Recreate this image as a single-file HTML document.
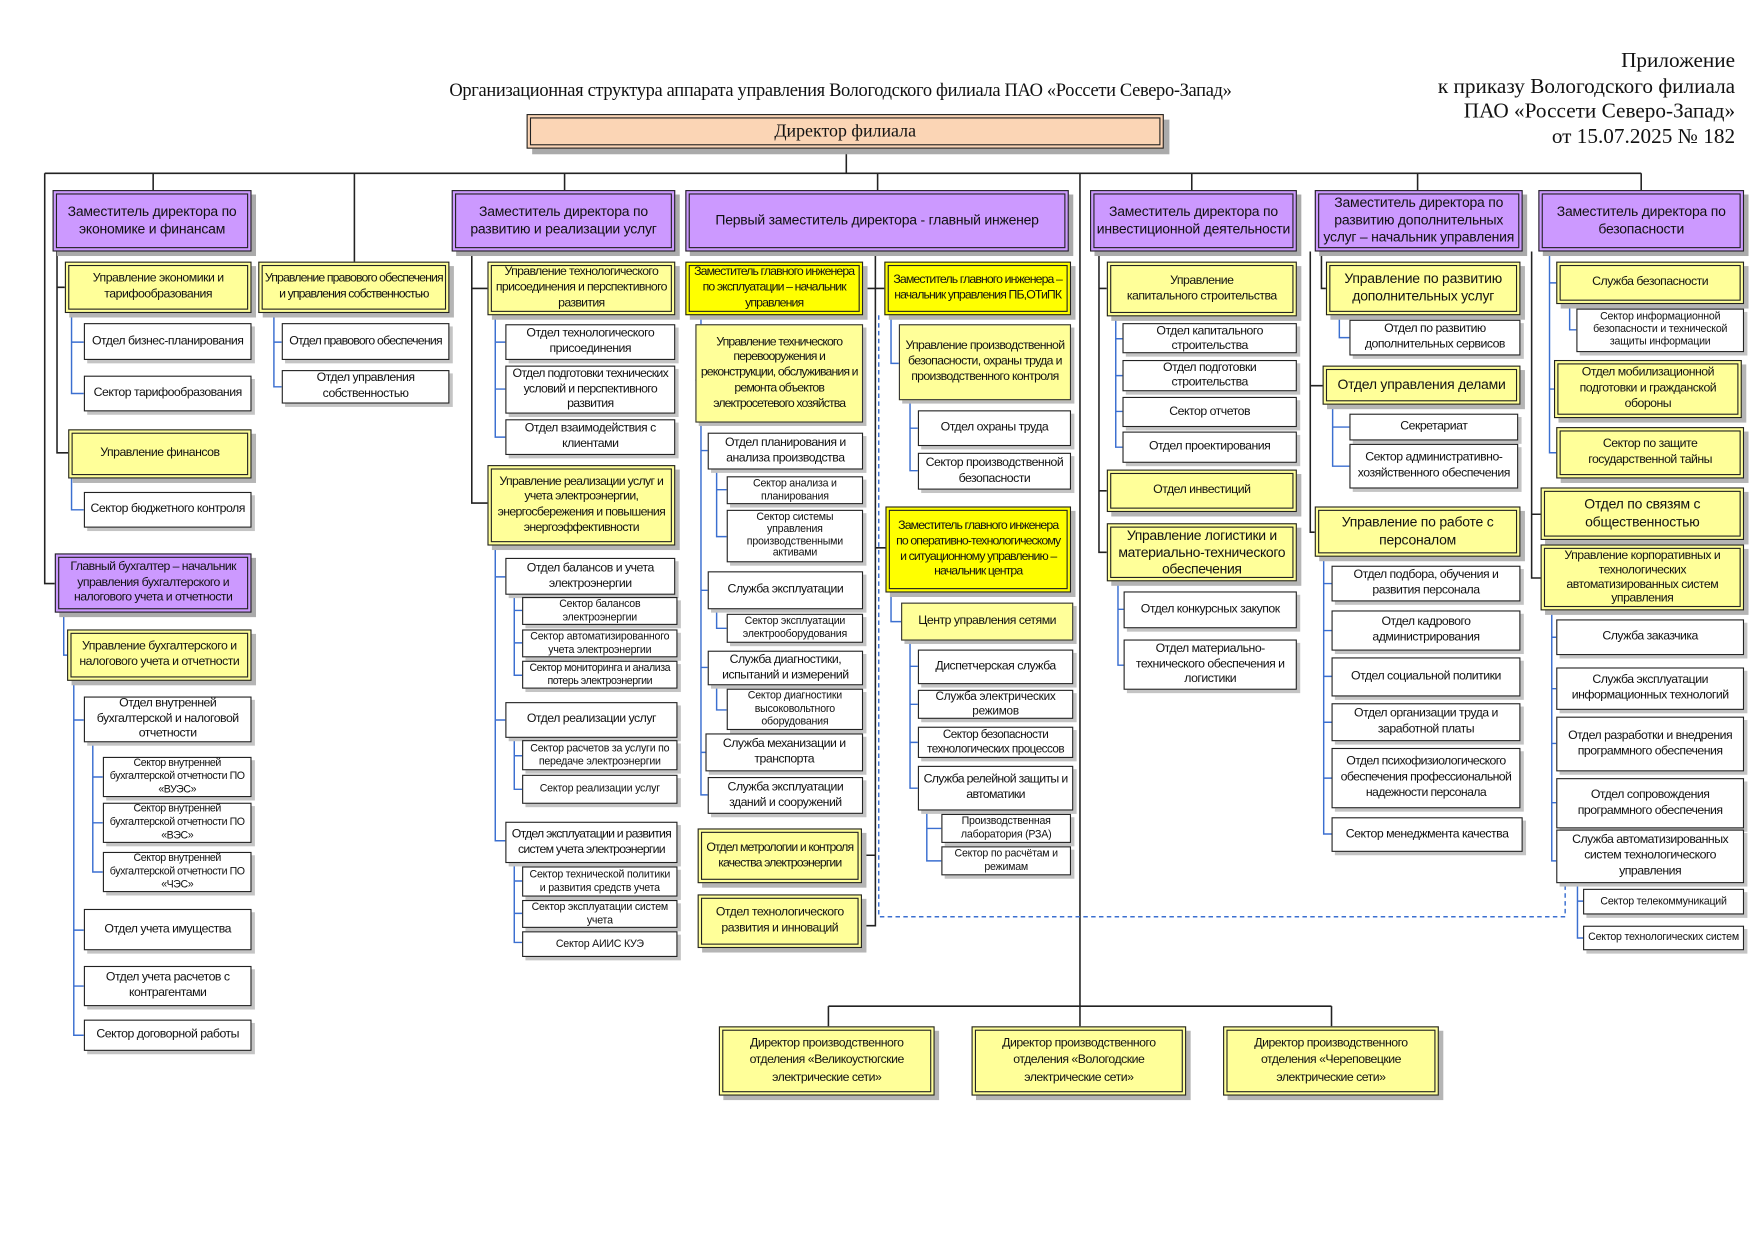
<!DOCTYPE html>
<html><head><meta charset="utf-8">
<style>
html,body{margin:0;padding:0;background:#fff;}
body{width:1753px;height:1246px;overflow:hidden;position:relative;}
#c{position:absolute;left:0;top:0;width:1568px;height:1115px;transform:scale(1.11798);transform-origin:0 0;font-family:"Liberation Sans",sans-serif;color:#111;}
.b{position:absolute;box-sizing:border-box;display:flex;align-items:center;justify-content:center;text-align:center;font-size:11px;line-height:1.25;letter-spacing:-0.45px;overflow:visible;}
.n{white-space:nowrap;}
.p{background:#cc99ff;border:4px double #222;box-shadow:4px 4px 0 #aaa;font-size:12.5px;letter-spacing:-0.2px;}
.y{background:#ffff99;border:4px double #222;box-shadow:4px 4px 0 #b5b5b5;}
.Y{background:#ffff00;border:4px double #222;box-shadow:4px 4px 0 #b5b5b5;}
.ys{background:#ffff99;border:1.5px solid #333;box-shadow:3px 3px 0 #bbb;}
.w{background:#fff;border:1.5px solid #222;box-shadow:3px 3px 0 #c4c4c4;}
.s{font-size:9.5px;letter-spacing:-0.2px;}
.t{position:absolute;font-family:"Liberation Serif",serif;}
svg{position:absolute;left:0;top:0;}
</style></head><body>
<div id="c">
<div class="t" style="left:402px;top:71px;font-size:16.5px;letter-spacing:-0.3px;">Организационная структура аппарата управления Вологодского филиала ПАО «Россети Северо-Запад»</div>
<div class="t" style="right:16px;top:44px;font-size:19px;text-align:right;line-height:22.5px;">Приложение<br>к приказу Вологодского филиала<br>ПАО «Россети Северо-Запад»<br>от 15.07.2025 № 182</div>

<svg width="1568" height="1115" viewBox="0 0 1568 1115">
<g fill="none" stroke="#222" stroke-width="1.4">
<path d="M757 133V155M40 155H1468M137 155V170M317 155V234M505 155V170M785 155V170M1066 155V170M1268 155V170M1468 155V170"/>
<path d="M966 155V900M741 900H1191M741 900V918M966 900V918M1191 900V918"/>
<path d="M40 155V522H49M51 225V405H61M51 257H58"/>
<path d="M422 225V450H436M422 258H436"/>
<path d="M783 225V828H771M772 258H791M783 490H792M783 765H771"/>
<path d="M983 225V494H990M983 258H990M983 439H990"/>
<path d="M1182 225V258H1186M1172 225V476H1176M1172 345H1183"/>
<path d="M1370 225V517H1378M1370 460H1378"/>
</g>
<g fill="none" stroke="#3b6fd0" stroke-width="1.3">
<path d="M64 280V352H75M64 306H75M64 428V456H75"/>
<path d="M245 280V346H252M245 306H252"/>
<path d="M57 548V586H60M66 609V926H75M66 644H75M66 832H75M66 882H75M83 664V780H92M83 695H92M83 736H92"/>
<path d="M443 282V391H452M443 306H452M443 348H452M443 488V752H452M443 516H452M443 644H452M460 532V604H467M460 546H467M460 575H467M460 660V706H467M460 676H467M460 772V843H467M460 788H467M460 817H467"/>
<path d="M627 282V711H633M627 340H622M627 403H633M627 528H633M627 597H633M627 673H631M641 420V480H650M641 438H650M641 545V562H650M641 613V635H650"/>
<path d="M797 282V325H804M814 358V421H821M814 383H821"/>
<path d="M797 530V556H806M814 573V705H821M814 596H821M814 630H821M814 664H821M829 725V770H842M829 741H842"/>
<path d="M998 283V400H1004M998 303H1004M998 336H1004M998 368H1004M1000 520V595H1005M1000 545H1005"/>
<path d="M1198 282V302H1207M1192 362V417H1207M1192 382H1207M1184 498V746H1191M1184 522H1191M1184 564H1191M1184 605H1191M1184 646H1191M1184 696H1191"/>
<path d="M1386 225V405H1392M1386 253H1392M1386 348H1390M1404 272V295H1410M1388 546V770H1392M1388 570H1392M1388 616H1392M1388 665H1392M1388 718H1392M1411 790V839H1416M1411 806H1416"/>
<path d="M786 282V820H1400V790" stroke-dasharray="4 3"/>
</g>
</svg>

<div class="b" style="left:471px;top:102px;width:570px;height:31px;background:#fbd5b5;border:4px double #222;box-shadow:5px 5px 0 #aaa;font-family:'Liberation Serif',serif;font-size:16px;letter-spacing:0;">Директор филиала</div>

<div class="b p" style="left:47px;top:170px;width:178px;height:55px;">Заместитель директора по экономике и финансам</div>
<div class="b p" style="left:404px;top:170px;width:200px;height:55px;">Заместитель директора по развитию и реализации услуг</div>
<div class="b p" style="left:613px;top:170px;width:343px;height:55px;">Первый заместитель директора - главный инженер</div>
<div class="b p" style="left:975px;top:170px;width:185px;height:55px;">Заместитель директора по инвестиционной деятельности</div>
<div class="b p" style="left:1176px;top:170px;width:186px;height:55px;">Заместитель директора по развитию дополнительных услуг – начальник управления</div>
<div class="b p" style="left:1376px;top:170px;width:184px;height:55px;">Заместитель директора по безопасности</div>

<div class="b y" style="left:58px;top:234px;width:167px;height:46px;">Управление экономики и тарифообразования</div>
<div class="b w" style="left:75px;top:289px;width:150px;height:33px;">Отдел бизнес-планирования</div>
<div class="b w" style="left:75px;top:336px;width:150px;height:32px;">Сектор тарифообразования</div>
<div class="b y" style="left:61px;top:384px;width:164px;height:44px;">Управление финансов</div>
<div class="b w" style="left:75px;top:440px;width:150px;height:32px;">Сектор бюджетного контроля</div>
<div class="b p n" style="left:49px;top:495px;width:176px;height:53px;font-size:11px;letter-spacing:-0.5px;">Главный бухгалтер – начальник<br>управления бухгалтерского и<br>налогового учета и отчетности</div>
<div class="b y" style="left:60px;top:563px;width:165px;height:46px;">Управление бухгалтерского и налогового учета и отчетности</div>
<div class="b w" style="left:75px;top:623px;width:150px;height:41px;">Отдел внутренней бухгалтерской и налоговой отчетности</div>
<div class="b w s n" style="left:92px;top:677px;width:133px;height:36px;letter-spacing:-0.4px;">Сектор внутренней<br>бухгалтерской отчетности ПО<br>«ВУЭС»</div>
<div class="b w s n" style="left:92px;top:718px;width:133px;height:36px;letter-spacing:-0.4px;">Сектор внутренней<br>бухгалтерской отчетности ПО<br>«ВЭС»</div>
<div class="b w s n" style="left:92px;top:762px;width:133px;height:36px;letter-spacing:-0.4px;">Сектор внутренней<br>бухгалтерской отчетности ПО<br>«ЧЭС»</div>
<div class="b w" style="left:75px;top:813px;width:150px;height:37px;">Отдел учета имущества</div>
<div class="b w" style="left:75px;top:864px;width:150px;height:36px;">Отдел учета расчетов с контрагентами</div>
<div class="b w" style="left:75px;top:912px;width:150px;height:28px;">Сектор договорной работы</div>

<div class="b y n" style="left:231px;top:234px;width:171px;height:46px;letter-spacing:-0.8px;">Управление правового обеспечения<br>и управления собственностью</div>
<div class="b w n" style="left:252px;top:289px;width:150px;height:33px;letter-spacing:-0.7px;">Отдел правового обеспечения</div>
<div class="b w" style="left:252px;top:331px;width:150px;height:30px;">Отдел управления собственностью</div>

<div class="b y n" style="left:436px;top:234px;width:168px;height:48px;letter-spacing:-0.6px;">Управление технологического<br>присоединения и перспективного<br>развития</div>
<div class="b w" style="left:452px;top:290px;width:152px;height:32px;">Отдел технологического присоединения</div>
<div class="b w n" style="left:452px;top:327px;width:152px;height:43px;letter-spacing:-0.6px;">Отдел подготовки технических<br>условий и перспективного<br>развития</div>
<div class="b w" style="left:452px;top:375px;width:152px;height:32px;">Отдел взаимодействия с клиентами</div>
<div class="b y n" style="left:436px;top:416px;width:168px;height:72px;letter-spacing:-0.6px;">Управление реализации услуг и<br>учета электроэнергии,<br>энергосбережения и повышения<br>энергоэффективности</div>
<div class="b w" style="left:452px;top:499px;width:152px;height:33px;">Отдел балансов и учета электроэнергии</div>
<div class="b w s" style="left:467px;top:534px;width:139px;height:25px;">Сектор балансов электроэнергии</div>
<div class="b w s n" style="left:467px;top:563px;width:139px;height:25px;">Сектор автоматизированного<br>учета электроэнергии</div>
<div class="b w s n" style="left:467px;top:591px;width:139px;height:25px;letter-spacing:-0.4px;">Сектор мониторинга и анализа<br>потерь электроэнергии</div>
<div class="b w" style="left:452px;top:628px;width:154px;height:32px;">Отдел реализации услуг</div>
<div class="b w s n" style="left:467px;top:662px;width:139px;height:27px;">Сектор расчетов за услуги по<br>передаче электроэнергии</div>
<div class="b w s" style="left:467px;top:693px;width:139px;height:26px;">Сектор реализации услуг</div>
<div class="b w n" style="left:452px;top:735px;width:154px;height:37px;letter-spacing:-0.7px;">Отдел эксплуатации и развития<br>систем учета электроэнергии</div>
<div class="b w s n" style="left:467px;top:775px;width:139px;height:27px;">Сектор технической политики<br>и развития средств учета</div>
<div class="b w s n" style="left:467px;top:805px;width:139px;height:25px;">Сектор эксплуатации систем<br>учета</div>
<div class="b w s" style="left:467px;top:833px;width:139px;height:23px;">Сектор АИИС КУЭ</div>

<div class="b Y n" style="left:613px;top:234px;width:159px;height:48px;letter-spacing:-0.8px;">Заместитель главного инженера<br>по эксплуатации – начальник<br>управления</div>
<div class="b ys n" style="left:622px;top:290px;width:150px;height:88px;letter-spacing:-0.8px;">Управление технического<br>перевооружения и<br>реконструкции, обслуживания и<br>ремонта объектов<br>электросетевого хозяйства</div>
<div class="b w n" style="left:633px;top:387px;width:139px;height:33px;">Отдел планирования и<br>анализа производства</div>
<div class="b w s n" style="left:650px;top:426px;width:122px;height:25px;">Сектор анализа и<br>планирования</div>
<div class="b w s n" style="left:650px;top:456px;width:122px;height:47px;line-height:1.15;">Сектор системы<br>управления<br>производственными<br>активами</div>
<div class="b w" style="left:633px;top:511px;width:139px;height:34px;">Служба эксплуатации</div>
<div class="b w s n" style="left:650px;top:549px;width:122px;height:26px;">Сектор эксплуатации<br>электрооборудования</div>
<div class="b w n" style="left:633px;top:582px;width:139px;height:31px;">Служба диагностики,<br>испытаний и измерений</div>
<div class="b w s n" style="left:650px;top:616px;width:122px;height:37px;">Сектор диагностики<br>высоковольтного<br>оборудования</div>
<div class="b w n" style="left:631px;top:656px;width:141px;height:34px;">Служба механизации и<br>транспорта</div>
<div class="b w n" style="left:633px;top:695px;width:139px;height:33px;">Служба эксплуатации<br>зданий и сооружений</div>
<div class="b y n" style="left:624px;top:741px;width:147px;height:49px;letter-spacing:-0.8px;">Отдел метрологии и контроля<br>качества электроэнергии</div>
<div class="b y n" style="left:624px;top:800px;width:147px;height:48px;">Отдел технологического<br>развития и инноваций</div>

<div class="b Y n" style="left:791px;top:234px;width:167px;height:48px;letter-spacing:-0.8px;">Заместитель главного инженера –<br>начальник управления ПБ,ОТиПК</div>
<div class="b ys n" style="left:804px;top:290px;width:154px;height:68px;letter-spacing:-0.6px;">Управление производственной<br>безопасности, охраны труда и<br>производственного контроля</div>
<div class="b w" style="left:821px;top:367px;width:137px;height:32px;">Отдел охраны труда</div>
<div class="b w n" style="left:821px;top:405px;width:137px;height:33px;">Сектор производственной<br>безопасности</div>
<div class="b Y n" style="left:792px;top:453px;width:166px;height:77px;letter-spacing:-0.8px;">Заместитель главного инженера<br>по оперативно-технологическому<br>и ситуационному управлению –<br>начальник центра</div>
<div class="b ys" style="left:806px;top:539px;width:154px;height:34px;">Центр управления сетями</div>
<div class="b w" style="left:821px;top:581px;width:139px;height:31px;">Диспетчерская служба</div>
<div class="b w s n" style="left:821px;top:617px;width:139px;height:26px;font-size:10.5px;">Служба электрических<br>режимов</div>
<div class="b w s n" style="left:821px;top:650px;width:139px;height:28px;font-size:10.5px;letter-spacing:-0.5px;">Сектор безопасности<br>технологических процессов</div>
<div class="b w n" style="left:821px;top:685px;width:139px;height:40px;letter-spacing:-0.6px;">Служба релейной защиты и<br>автоматики</div>
<div class="b w s n" style="left:842px;top:728px;width:116px;height:26px;">Производственная<br>лаборатория (РЗА)</div>
<div class="b w s n" style="left:842px;top:757px;width:116px;height:26px;">Сектор по расчётам и<br>режимам</div>

<div class="b y n" style="left:990px;top:234px;width:170px;height:49px;">Управление<br>капитального строительства</div>
<div class="b w n" style="left:1004px;top:289px;width:156px;height:27px;line-height:1.15;">Отдел капитального<br>строительства</div>
<div class="b w n" style="left:1004px;top:322px;width:156px;height:28px;line-height:1.15;">Отдел подготовки<br>строительства</div>
<div class="b w" style="left:1004px;top:355px;width:156px;height:27px;">Сектор отчетов</div>
<div class="b w" style="left:1004px;top:386px;width:156px;height:28px;">Отдел проектирования</div>
<div class="b y" style="left:990px;top:420px;width:170px;height:38px;">Отдел инвестиций</div>
<div class="b y n" style="left:990px;top:468px;width:170px;height:52px;font-size:12.5px;letter-spacing:-0.3px;line-height:1.2;">Управление логистики и<br>материально-технического<br>обеспечения</div>
<div class="b w" style="left:1005px;top:529px;width:155px;height:33px;">Отдел конкурсных закупок</div>
<div class="b w n" style="left:1005px;top:572px;width:155px;height:45px;">Отдел материально-<br>технического обеспечения и<br>логистики</div>

<div class="b y n" style="left:1186px;top:234px;width:174px;height:48px;font-size:12.5px;letter-spacing:-0.2px;">Управление по развитию<br>дополнительных услуг</div>
<div class="b w n" style="left:1207px;top:286px;width:153px;height:32px;">Отдел по развитию<br>дополнительных сервисов</div>
<div class="b y" style="left:1183px;top:327px;width:177px;height:35px;font-size:12.5px;letter-spacing:-0.2px;">Отдел управления делами</div>
<div class="b w" style="left:1207px;top:370px;width:151px;height:24px;">Секретариат</div>
<div class="b w n" style="left:1207px;top:397px;width:151px;height:40px;">Сектор административно-<br>хозяйственного обеспечения</div>
<div class="b y n" style="left:1176px;top:453px;width:184px;height:45px;font-size:12.5px;letter-spacing:-0.2px;">Управление по работе с<br>персоналом</div>
<div class="b w n" style="left:1191px;top:506px;width:169px;height:32px;">Отдел подбора, обучения и<br>развития персонала</div>
<div class="b w n" style="left:1191px;top:546px;width:169px;height:36px;">Отдел кадрового<br>администрирования</div>
<div class="b w" style="left:1191px;top:588px;width:169px;height:35px;">Отдел социальной политики</div>
<div class="b w n" style="left:1191px;top:629px;width:169px;height:34px;">Отдел организации труда и<br>заработной платы</div>
<div class="b w n" style="left:1191px;top:669px;width:169px;height:54px;letter-spacing:-0.55px;">Отдел психофизиологического<br>обеспечения профессиональной<br>надежности персонала</div>
<div class="b w" style="left:1191px;top:731px;width:171px;height:31px;">Сектор менеджмента качества</div>

<div class="b y" style="left:1392px;top:234px;width:168px;height:38px;">Служба безопасности</div>
<div class="b w s n" style="left:1410px;top:276px;width:150px;height:39px;line-height:1.15;">Сектор информационной<br>безопасности и технической<br>защиты информации</div>
<div class="b y n" style="left:1390px;top:322px;width:168px;height:52px;">Отдел мобилизационной<br>подготовки и гражданской<br>обороны</div>
<div class="b y n" style="left:1392px;top:382px;width:168px;height:46px;">Сектор по защите<br>государственной тайны</div>
<div class="b y n" style="left:1378px;top:436px;width:182px;height:47px;font-size:12.5px;letter-spacing:-0.2px;">Отдел по связям с<br>общественностью</div>
<div class="b y n" style="left:1378px;top:487px;width:182px;height:59px;line-height:1.15;">Управление корпоративных и<br>технологических<br>автоматизированных систем<br>управления</div>
<div class="b w" style="left:1392px;top:554px;width:168px;height:32px;">Служба заказчика</div>
<div class="b w n" style="left:1392px;top:597px;width:168px;height:38px;">Служба эксплуатации<br>информационных технологий</div>
<div class="b w n" style="left:1392px;top:641px;width:168px;height:49px;">Отдел разработки и внедрения<br>программного обеспечения</div>
<div class="b w n" style="left:1392px;top:696px;width:168px;height:45px;">Отдел сопровождения<br>программного обеспечения</div>
<div class="b w n" style="left:1392px;top:742px;width:168px;height:48px;">Служба автоматизированных<br>систем технологического<br>управления</div>
<div class="b w s" style="left:1416px;top:795px;width:144px;height:23px;">Сектор телекоммуникаций</div>
<div class="b w s" style="left:1416px;top:828px;width:144px;height:22px;">Сектор технологических систем</div>

<div class="b y n" style="left:643px;top:918px;width:193px;height:62px;line-height:1.4;">Директор производственного<br>отделения «Великоустюгские<br>электрические сети»</div>
<div class="b y n" style="left:869px;top:918px;width:192px;height:62px;line-height:1.4;">Директор производственного<br>отделения «Вологодские<br>электрические сети»</div>
<div class="b y n" style="left:1094px;top:918px;width:193px;height:62px;line-height:1.4;">Директор производственного<br>отделения «Череповецкие<br>электрические сети»</div>
</div>
</body></html>
